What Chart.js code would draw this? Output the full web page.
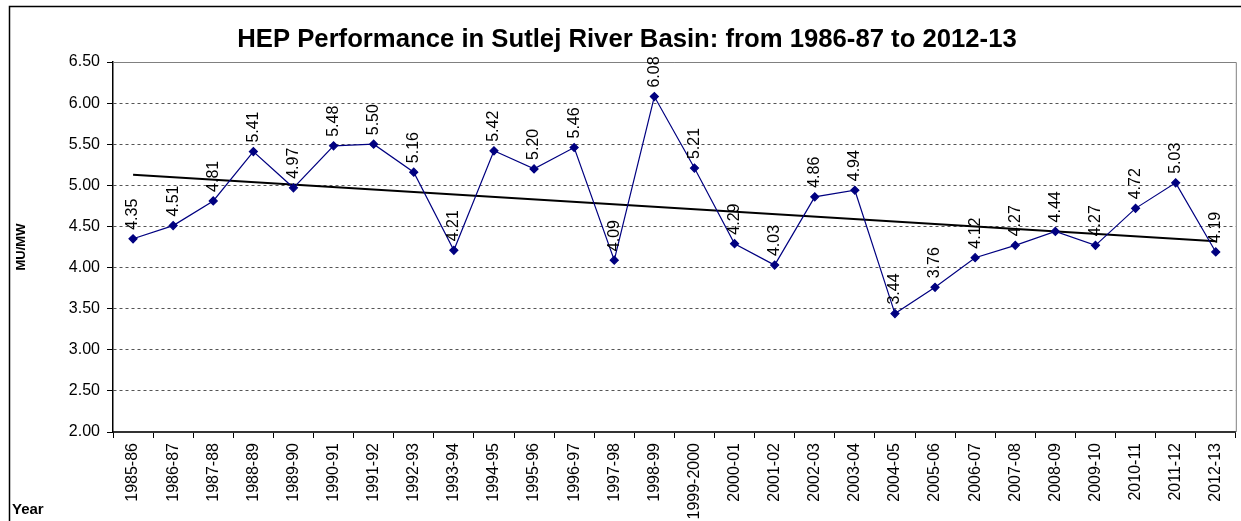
<!DOCTYPE html>
<html>
<head>
<meta charset="utf-8">
<script src="https://cdn.jsdelivr.net/npm/chart.js@4"></script>
<style>
  html, body { margin: 0; padding: 0; background: #fff; }
  #wrap { width: 1241px; height: 521px; }
</style>
</head>
<body>
<div id="wrap"><canvas id="chart" width="1241" height="521"></canvas></div>
<script>
"use strict";
// data
const years = ["1985-86", "1986-87", "1987-88", "1988-89", "1989-90", "1990-91", "1991-92",
	"1992-93", "1993-94", "1994-95", "1995-96", "1996-97", "1997-98", "1998-99", "1999-2000",
	"2000-01", "2001-02", "2002-03", "2003-04", "2004-05", "2005-06", "2006-07", "2007-08",
	"2008-09", "2009-10", "2010-11", "2011-12", "2012-13"];
const hepValues = [4.35, 4.51, 4.81, 5.41, 4.97, 5.48, 5.50, 5.16, 4.21, 5.42, 5.20, 5.46, 4.09,
	6.08, 5.21, 4.29, 4.03, 4.86, 4.94, 3.44, 3.76, 4.12, 4.27, 4.44, 4.27, 4.72, 5.03, 4.19];
// linear trend line end points, as drawn in the reference
const trendStart = 5.13;
const trendEnd = 4.32;
const yTicks = [2.0, 2.5, 3.0, 3.5, 4.0, 4.5, 5.0, 5.5, 6.0, 6.5];

const trendData = years.map((y, i) => i === 0 ? trendStart : (i === years.length - 1 ? trendEnd : null));
const FONT = "Arial, 'Liberation Sans', sans-serif";

const decorPlugin = {
	id: "decor",
	afterDraw(chart) {
		const ctx = chart.ctx;
		const area = chart.chartArea;
		ctx.save();
		// outer chart frame
		ctx.strokeStyle = "#000";
		ctx.lineWidth = 1.5;
		ctx.strokeRect(9.5, 6.5, 1300, 600);
		// plot area frame top / right
		ctx.strokeStyle = "#808080";
		ctx.lineWidth = 1;
		ctx.beginPath();
		ctx.moveTo(area.left, area.top + 0.5);
		ctx.lineTo(area.right + 0.5, area.top + 0.5);
		ctx.lineTo(area.right + 0.5, area.bottom);
		ctx.stroke();

		// title
		ctx.fillStyle = "#000";
		ctx.font = "bold 25.7px " + FONT;
		ctx.textAlign = "center";
		ctx.textBaseline = "middle";
		ctx.fillText("HEP Performance in Sutlej River Basin: from 1986-87 to 2012-13", 627, 40);

		// y axis title
		ctx.save();
		ctx.translate(21, 247);
		ctx.rotate(-Math.PI / 2);
		ctx.font = "bold 13px " + FONT;
		ctx.fillText("MU/MW", 0, 0);
		ctx.restore();

		// x axis title
		ctx.font = "bold 15px " + FONT;
		ctx.textAlign = "left";
		ctx.fillText("Year", 12, 510);

		// data labels
		const meta = chart.getDatasetMeta(0);
		ctx.font = "16px " + FONT;
		ctx.textAlign = "left";
		ctx.textBaseline = "middle";
		meta.data.forEach((pt, i) => {
			ctx.save();
			ctx.translate(pt.x, pt.y - 9);
			ctx.rotate(-Math.PI / 2);
			ctx.fillText(hepValues[i].toFixed(2), 0, 0);
			ctx.restore();
		});
		ctx.restore();
	}
};

new Chart(document.getElementById("chart"), {
	type: "line",
	data: {
		labels: years,
		datasets: [{
			label: "HEP Performance",
			data: hepValues,
			borderColor: "#000080",
			borderWidth: 1.2,
			backgroundColor: "#000080",
			pointStyle: "rectRot",
			pointRadius: 4,
			pointBackgroundColor: "#000080",
			pointBorderColor: "#000080",
			tension: 0
		}, {
			label: "Linear trend",
			data: trendData,
			spanGaps: true,
			borderColor: "#000",
			borderWidth: 2,
			pointRadius: 0,
			tension: 0
		}]
	},
	options: {
		responsive: false,
		animation: false,
		devicePixelRatio: 1,
		layout: {
			padding: { left: 0, top: 62, right: 3, bottom: 0 }
		},
		plugins: {
			legend: { display: false },
			tooltip: { enabled: false },
			title: { display: false }
		},
		scales: {
			x: {
				offset: true,
				grid: {
					offset: true,
					drawOnChartArea: false,
					drawTicks: true,
					tickLength: 6,
					tickColor: "#000",
					tickWidth: 1
				},
				border: { color: "#333", width: 2 },
				ticks: {
					minRotation: 90,
					maxRotation: 90,
					autoSkip: false,
					padding: 5,
					color: "#000",
					font: { family: FONT, size: 16 }
				},
				afterFit(scale) { scale.height = 89; }
			},
			y: {
				min: 2,
				max: 6.5,
				afterBuildTicks(scale) { scale.ticks = yTicks.map(v => ({ value: v })); },
				grid: {
					color: ctx => ctx.tick && ctx.tick.value === 6.5 ? "#808080" : "#555",
					lineWidth: 1,
					tickLength: 6,
					tickColor: "#000",
					tickBorderDash: []
				},
				border: {
					color: "#000",
					width: 1.5,
					dash: ctx => ctx.tick && ctx.tick.value === 6.5 ? [] : [3, 3]
				},
				ticks: {
					padding: 7,
					color: "#000",
					font: { family: FONT, size: 16 },
					callback: v => Number(v).toFixed(2)
				},
				afterFit(scale) { scale.width = 113; }
			}
		}
	},
	plugins: [decorPlugin]
});
</script>
</body>
</html>
